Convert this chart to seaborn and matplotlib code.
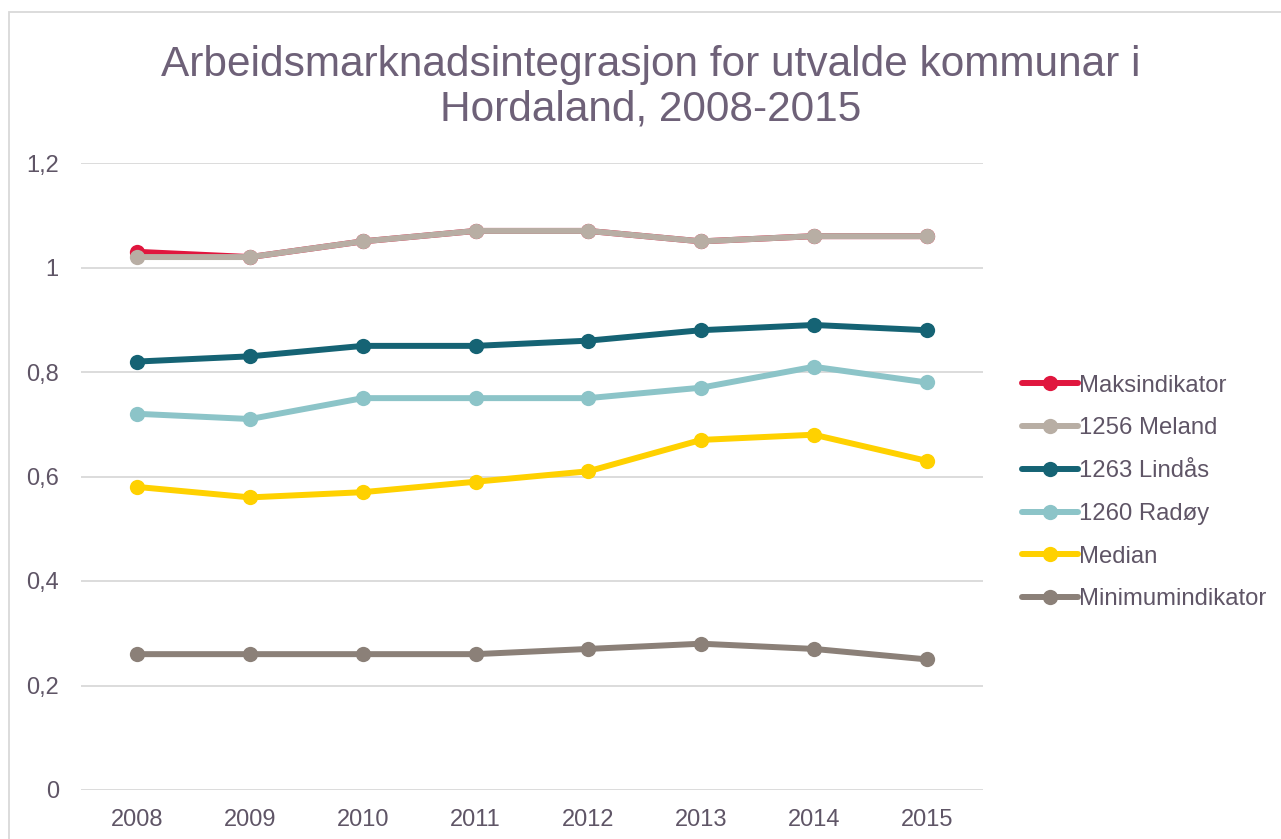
import numpy as np
import pandas as pd
import matplotlib.pyplot as plt
import matplotlib.patches as mpatches
import seaborn as sns

years = ['2008', '2009', '2010', '2011', '2012', '2013', '2014', '2015']
series_names = ['Maksindikator', '1256 Meland', '1263 Lindås', '1260 Radøy', 'Median', 'Minimumindikator']
maks = [1.03, 1.02, 1.05, 1.07, 1.07, 1.05, 1.06, 1.06]
meland = [1.02, 1.02, 1.05, 1.07, 1.07, 1.05, 1.06, 1.06]
lindas = [0.82, 0.83, 0.85, 0.85, 0.86, 0.88, 0.89, 0.88]
radoy = [0.72, 0.71, 0.75, 0.75, 0.75, 0.77, 0.81, 0.78]
median = [0.58, 0.56, 0.57, 0.59, 0.61, 0.67, 0.68, 0.63]
minimum = [0.26, 0.26, 0.26, 0.26, 0.27, 0.28, 0.27, 0.25]
colors = ['#E0163E', '#B8AEA4', '#156374', '#8CC4C8', '#FFD100', '#8B8078']

values = [maks, meland, lindas, radoy, median, minimum]
rows = []
for name, vals in zip(series_names, values):
    for i, v in enumerate(vals):
        rows.append({'pos': i, 'year': years[i], 'series': name, 'value': v})
df = pd.DataFrame(rows)

sns.set_style('white')
plt.rcParams['font.family'] = ['Liberation Sans', 'DejaVu Sans']
text_col = '#5F5566'

fig = plt.figure(figsize=(12.81, 8.39), dpi=100)
ax = fig.add_axes([81 / 1281, 1 - 790 / 839, 902 / 1281, 627 / 839])

sns.lineplot(data=df, x='pos', y='value', hue='series', hue_order=series_names,
             palette=colors, marker='o', markersize=11, markeredgewidth=0,
             linewidth=4.3, ax=ax, zorder=3)

ax.set_xlim(-0.5, 7.5)
ax.set_ylim(0, 1.2)
ax.set_xticks(range(len(years)))
ax.set_xticklabels(years)
yt = [0, 0.2, 0.4, 0.6, 0.8, 1.0, 1.2]
ax.set_yticks(yt)
ax.set_yticklabels(['0', '0,2', '0,4', '0,6', '0,8', '1', '1,2'])
ax.tick_params(axis='both', length=0, labelsize=17, labelcolor=text_col)
ax.tick_params(axis='y', pad=16)
ax.tick_params(axis='x', pad=14)
ax.yaxis.grid(True, color='#D9D9D9', linewidth=1.3, zorder=0)
ax.set_axisbelow(True)
for s in ax.spines.values():
    s.set_visible(False)
ax.set_xlabel('')
ax.set_ylabel('')

fig.text(0.5 + 10 / 1281, 1 - 87 / 839,
         'Arbeidsmarknadsintegrasjon for utvalde kommunar i\nHordaland, 2008-2015',
         ha='center', va='center', fontsize=30.5, color='#6E6178', linespacing=1.14)

leg = ax.legend(loc='center left', bbox_to_anchor=((1012 - 81) / 902, 0.5 - (492 - 476) / 627),
                frameon=False, fontsize=17.2, labelspacing=0.87, handlelength=2.35,
                handletextpad=0.05, borderaxespad=0)
for t in leg.get_texts():
    t.set_color(text_col)
for h in leg.legend_handles:
    h.set_linewidth(4.3)
    h.set_markersize(11)

fig.patches.append(mpatches.Rectangle((9 / 1281, -0.1), 1.2, 1 - 12 / 839 + 0.1,
                                      transform=fig.transFigure, fill=False,
                                      edgecolor='#D9D9D9', linewidth=1.3))

fig.savefig('out.png', dpi=100)
